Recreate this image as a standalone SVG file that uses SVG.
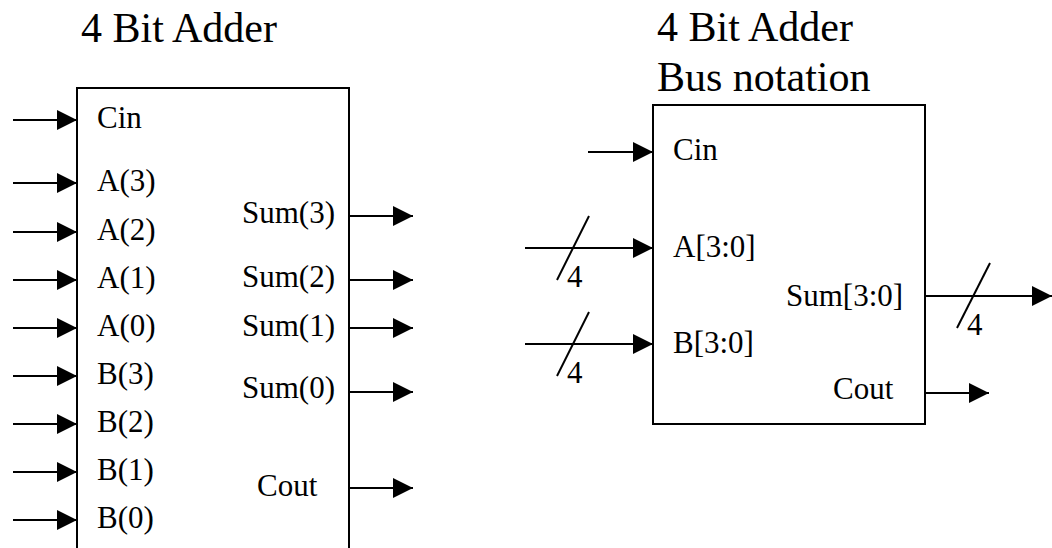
<svg xmlns="http://www.w3.org/2000/svg" width="1052" height="548" viewBox="0 0 1052 548">
<style>
text{font-family:"Liberation Serif","Times New Roman",serif;fill:#000}
.t{font-size:42px}
.l{font-size:31px}
.box{fill:#fff;stroke:#000;stroke-width:2}
.w{stroke:#000;stroke-width:2;fill:none}
.a{marker-end:url(#ah)}
</style>
<defs>
<marker id="ah" viewBox="0 0 20 20" refX="20" refY="10" markerWidth="20" markerHeight="20" markerUnits="userSpaceOnUse" orient="auto">
<path d="M0,0 L20,10 L0,20 z" fill="#000"/>
</marker>
</defs>
<rect width="1052" height="548" fill="#fff"/>
<g id="adder1">
<text class="t" x="81" y="42">4 Bit Adder</text>
<rect class="box" x="77" y="88" width="272" height="480"/>
<text class="l" x="97" y="128">Cin</text>
<text class="l" x="97" y="191">A(3)</text>
<text class="l" x="97" y="240">A(2)</text>
<text class="l" x="97" y="288">A(1)</text>
<text class="l" x="97" y="336">A(0)</text>
<text class="l" x="97" y="384">B(3)</text>
<text class="l" x="97" y="432">B(2)</text>
<text class="l" x="97" y="480">B(1)</text>
<text class="l" x="97" y="528">B(0)</text>
<text class="l" x="335" y="223" text-anchor="end">Sum(3)</text>
<text class="l" x="335" y="287" text-anchor="end">Sum(2)</text>
<text class="l" x="335" y="336" text-anchor="end">Sum(1)</text>
<text class="l" x="335" y="398" text-anchor="end">Sum(0)</text>
<text class="l" x="257" y="496">Cout</text>
</g>
<g id="adder2">
<text class="t" x="657" y="41">4 Bit Adder</text>
<text class="t" x="657" y="91">Bus notation</text>
<rect class="box" x="653" y="105" width="272" height="319"/>
<text class="l" x="673" y="160">Cin</text>
<text class="l" x="673" y="257">A[3:0]</text>
<text class="l" x="673" y="353">B[3:0]</text>
<text class="l" x="786" y="306">Sum[3:0]</text>
<text class="l" x="833" y="399">Cout</text>
</g>
<g id="connectors">
<line class="w a" x1="13" y1="120" x2="77" y2="120"/>
<line class="w a" x1="13" y1="183" x2="77" y2="183"/>
<line class="w a" x1="13" y1="232" x2="77" y2="232"/>
<line class="w a" x1="13" y1="280" x2="77" y2="280"/>
<line class="w a" x1="13" y1="328" x2="77" y2="328"/>
<line class="w a" x1="13" y1="376" x2="77" y2="376"/>
<line class="w a" x1="13" y1="424" x2="77" y2="424"/>
<line class="w a" x1="13" y1="472" x2="77" y2="472"/>
<line class="w a" x1="13" y1="520" x2="77" y2="520"/>
<line class="w a" x1="349" y1="216" x2="413" y2="216"/>
<line class="w a" x1="349" y1="280" x2="413" y2="280"/>
<line class="w a" x1="349" y1="328" x2="413" y2="328"/>
<line class="w a" x1="349" y1="392" x2="413" y2="392"/>
<line class="w a" x1="349" y1="488" x2="413" y2="488"/>
<line class="w a" x1="588" y1="152" x2="653" y2="152"/>
<line class="w a" x1="525" y1="248" x2="653" y2="248"/>
<line class="w" x1="589" y1="216" x2="557" y2="280"/>
<text class="l" x="567" y="287">4</text>
<line class="w a" x1="525" y1="344" x2="653" y2="344"/>
<line class="w" x1="589" y1="312" x2="557" y2="376"/>
<text class="l" x="567" y="383">4</text>
<line class="w a" x1="925" y1="296" x2="1052" y2="296"/>
<line class="w" x1="990" y1="263" x2="957" y2="328"/>
<text class="l" x="967" y="335">4</text>
<line class="w a" x1="925" y1="393" x2="989" y2="393"/>
</g>
</svg>
